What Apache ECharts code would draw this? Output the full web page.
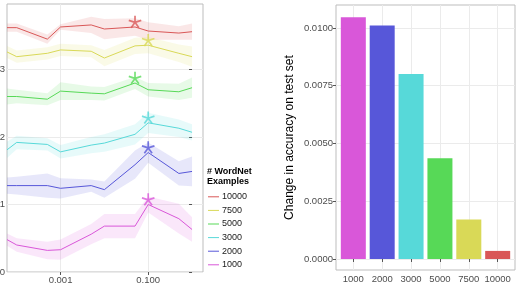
<!DOCTYPE html>
<html>
<head>
<meta charset="utf-8">
<script src="https://cdn.jsdelivr.net/npm/echarts@6/dist/echarts.min.js"></script>
<style>
html, body { margin: 0; padding: 0; background: #fff; }
#chart { width: 519px; height: 286px; }
</style>
</head>
<body>
<div id="chart"></div>
<script>
// left panel: accuracy vs weight (log x), one line per WordNet size
const xValues = [0.00006, 0.0001, 0.0005, 0.001, 0.005, 0.01, 0.05, 0.1, 0.5, 1];
const groups = ["10000", "7500", "5000", "3000", "2000", "1000"];

const acc10000 = [83.62, 83.62, 83.45, 83.63, 83.66, 83.60, 83.63, 83.57, 83.54, 83.56];
const acc7500  = [83.26, 83.19, 83.24, 83.29, 83.27, 83.17, 83.35, 83.36, 83.24, 83.19];
const acc5000  = [82.60, 82.60, 82.56, 82.68, 82.65, 82.64, 82.80, 82.70, 82.67, 82.73];
const acc3000  = [81.81, 81.92, 81.89, 81.78, 81.88, 81.91, 82.04, 82.21, 82.13, 82.07];
const acc2000  = [81.28, 81.28, 81.28, 81.24, 81.28, 81.22, 81.59, 81.77, 81.46, 81.49];
const acc1000  = [80.48, 80.40, 80.32, 80.33, 80.56, 80.68, 80.68, 81.00, 80.79, 80.63];

const sd10000 = [0.06, 0.06, 0.07, 0.04, 0.12, 0.15, 0.13, 0.13, 0.10, 0.12];
const sd7500  = [0.09, 0.09, 0.09, 0.09, 0.09, 0.12, 0.12, 0.12, 0.13, 0.15];
const sd5000  = [0.12, 0.10, 0.09, 0.13, 0.10, 0.10, 0.09, 0.10, 0.12, 0.15];
const sd3000  = [0.12, 0.10, 0.09, 0.10, 0.12, 0.13, 0.15, 0.15, 0.13, 0.12];
const sd2000  = [0.12, 0.13, 0.18, 0.15, 0.09, 0.12, 0.21, 0.15, 0.18, 0.22];
const sd1000  = [0.09, 0.10, 0.13, 0.15, 0.15, 0.18, 0.18, 0.12, 0.22, 0.18];

// index of the starred (best) point per group
const bestIdx = [6, 7, 6, 7, 7, 7];

const leftYTicks = [80, 81, 82, 83];
const leftXTicks = [0.001, 0.1];

// right panel: bars
const barCats = ["1000", "2000", "3000", "5000", "7500", "10000"];
const barValues = [0.01046, 0.01010, 0.00800, 0.00436, 0.00171, 0.00035];
const barTicks = [0, 0.0025, 0.005, 0.0075, 0.01];

const colors = {
  "10000": "#D95757",
  "7500": "#D9D957",
  "5000": "#57D957",
  "3000": "#57D9D9",
  "2000": "#5757D9",
  "1000": "#D957D9",
};
const accs = [acc10000, acc7500, acc5000, acc3000, acc2000, acc1000];
const sds = [sd10000, sd7500, sd5000, sd3000, sd2000, sd1000];

const font = "Liberation Sans";

// five-armed asterisk, like the "*" glyph
function asteriskPath() {
  const L = 10, w = 1.3;
  let d = "";
  for (let k = 0; k < 5; k++) {
    const a = (-90 + k * 72) * Math.PI / 180;
    const c = Math.cos(a), s = Math.sin(a);
    const nx = -s * w, ny = c * w;
    const pts = [[nx, ny], [L * c + nx, L * s + ny], [L * c - nx, L * s - ny], [-nx, -ny]];
    d += "M" + pts.map((p) => p[0].toFixed(2) + "," + p[1].toFixed(2)).join("L") + "Z ";
  }
  return "path://" + d;
}
const starPath = asteriskPath();

function rgba(hex, a) {
  const n = parseInt(hex.slice(1), 16);
  return `rgba(${(n >> 16) & 255},${(n >> 8) & 255},${n & 255},${a})`;
}

const lx = xValues.map((x) => Math.log10(x));

const series = [];

// bands first so lines sit on top
groups.forEach((g, k) => {
  const mean = accs[k], sd = sds[k];
  series.push({
    type: "custom",
    xAxisIndex: 0,
    yAxisIndex: 0,
    silent: true,
    clip: true,
    z: 1,
    data: [[lx[0], mean[0]]],
    renderItem: (params, api) => {
      const upper = lx.map((x, i) => api.coord([x, mean[i] + sd[i]]));
      const lower = lx.map((x, i) => api.coord([x, mean[i] - sd[i]])).reverse();
      return {
        type: "polygon",
        shape: { points: upper.concat(lower) },
        style: { fill: rgba(colors[g], 0.14) },
      };
    },
  });
});

groups.forEach((g, k) => {
  series.push({
    name: g,
    type: "line",
    xAxisIndex: 0,
    yAxisIndex: 0,
    data: lx.map((x, i) => [x, accs[k][i]]),
    showSymbol: false,
    symbol: "none",
    z: 3,
    lineStyle: { width: 1, color: colors[g] },
    itemStyle: { color: colors[g] },
  });
});

// stars at best points
groups.forEach((g, k) => {
  const i = bestIdx[k];
  series.push({
    type: "scatter",
    xAxisIndex: 0,
    yAxisIndex: 0,
    data: [[lx[i], accs[k][i]]],
    symbol: starPath,
    symbolSize: [13, 12.5],
    symbolOffset: [0, -5],
    z: 4,
    itemStyle: { color: colors[g] },
  });
});

// bars
series.push({
  type: "bar",
  xAxisIndex: 1,
  yAxisIndex: 1,
  barWidth: 25,
  data: barCats.map((c, i) => ({
    value: [i + 1, barValues[i]],
    itemStyle: { color: colors[c] },
  })),
});

const chart = echarts.init(document.getElementById("chart"));

const option = {
  animation: false,
  textStyle: { fontFamily: font },
  title: {
    text: "# WordNet\nExamples",
    left: 207,
    top: 167,
    padding: 0,
    textStyle: { fontSize: 9, fontWeight: "bold", color: "#000", lineHeight: 10, fontFamily: font },
  },
  legend: {
    data: groups,
    orient: "vertical",
    left: 208,
    top: 190,
    icon: "rect",
    itemWidth: 11,
    itemHeight: 1,
    itemGap: 0,
    padding: 0,
    selectedMode: false,
    textStyle: { fontSize: 9, color: "#1a1a1a", lineHeight: 13.6, padding: [0, 0, 0, -2], fontFamily: font },
  },
  grid: [
    { left: 7, top: 4, width: 196, height: 268, outerBoundsMode: "none", show: true, borderColor: "#bdbdbd", borderWidth: 1, backgroundColor: "#fff" },
    { left: 336, top: 5, width: 179, height: 265, outerBoundsMode: "none", show: true, borderColor: "#bdbdbd", borderWidth: 1, backgroundColor: "#fff" },
  ],
  xAxis: [
    {
      gridIndex: 0,
      type: "value",
      min: Math.log10(xValues[0]),
      max: 0.25,
      axisLine: { show: false },
      axisTick: { show: true, length: 3, lineStyle: { color: "#555" }, customValues: leftXTicks.map((v) => Math.log10(v)) },
      axisLabel: {
        customValues: leftXTicks.map((v) => Math.log10(v)),
        formatter: (v) => Math.pow(10, v).toFixed(3),
        fontSize: 9.5,
        color: "#4d4d4d",
        margin: 3,
        fontFamily: font,
      },
      splitLine: { show: true, lineStyle: { color: "#ebebeb", width: 1 } },
    },
    {
      gridIndex: 1,
      type: "value",
      min: 0.4,
      max: 6.6,
      axisLine: { show: false },
      axisTick: { show: true, length: 3, lineStyle: { color: "#555" }, customValues: barCats.map((c, i) => i + 1) },
      axisLabel: {
        customValues: barCats.map((c, i) => i + 1),
        formatter: (v) => barCats[Math.round(v) - 1],
        fontSize: 9.5,
        color: "#4d4d4d",
        margin: 4,
        fontFamily: font,
      },
      splitLine: { show: true, lineStyle: { color: "#ebebeb", width: 1 } },
    },
  ],
  yAxis: [
    {
      gridIndex: 0,
      type: "value",
      min: 80,
      max: 80 + 268 / 67.5,
      axisLine: { show: false },
      axisTick: { show: true, length: 3, lineStyle: { color: "#555" }, customValues: leftYTicks },
      axisLabel: {
        customValues: leftYTicks,
        formatter: (v) => (v / 100).toFixed(2),
        fontSize: 9.5,
        color: "#4d4d4d",
        margin: 2,
        fontFamily: font,
      },
      splitLine: { show: true, lineStyle: { color: "#ebebeb", width: 1 } },
    },
    {
      gridIndex: 1,
      type: "value",
      min: -0.000476,
      max: 0.01099,
      name: "Change in accuracy on test set",
      nameLocation: "middle",
      nameGap: 40,
      nameTextStyle: { fontSize: 12, color: "#000", fontFamily: font },
      axisLine: { show: false },
      axisTick: { show: true, length: 3, lineStyle: { color: "#555" }, customValues: barTicks },
      axisLabel: {
        customValues: barTicks,
        formatter: (v) => v.toFixed(4),
        fontSize: 9.5,
        color: "#4d4d4d",
        margin: 3,
        fontFamily: font,
      },
      splitLine: { show: true, lineStyle: { color: "#ebebeb", width: 1 } },
    },
  ],
  series,
};

chart.setOption(option);
</script>
</body>
</html>
